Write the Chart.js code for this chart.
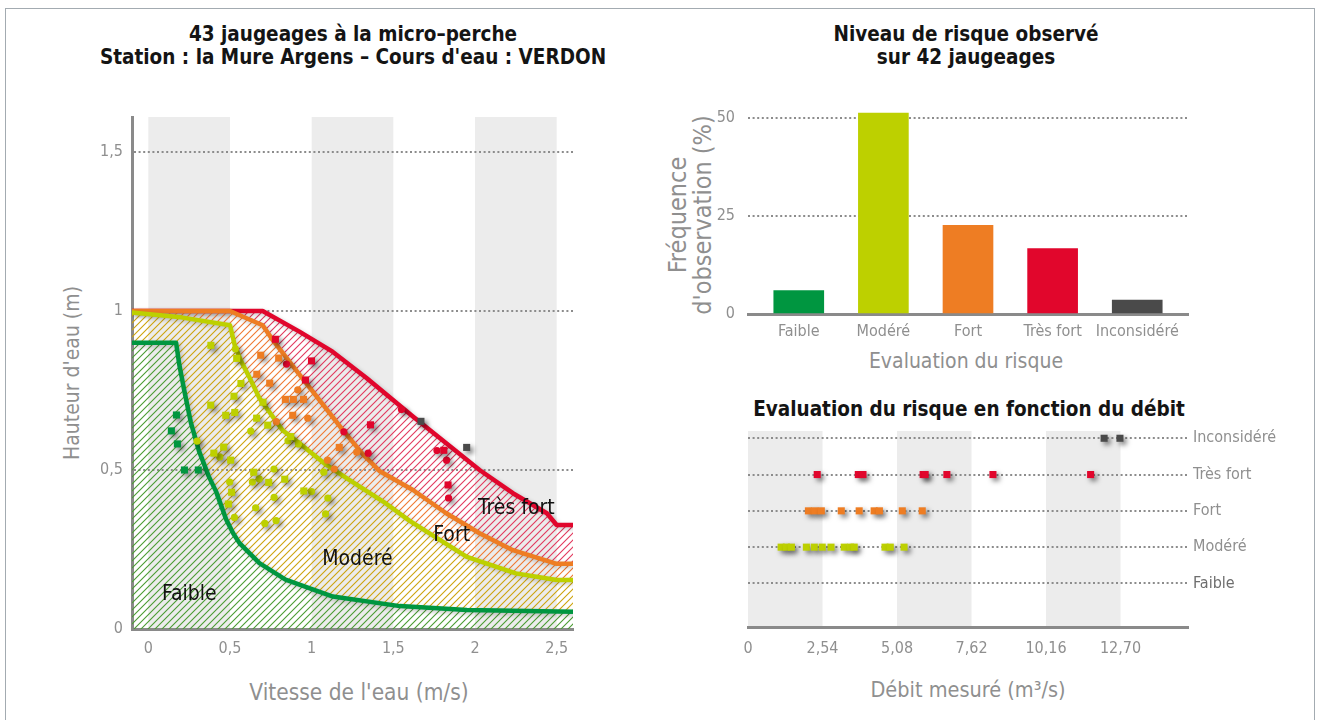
<!DOCTYPE html>
<html lang="fr">
<head>
<meta charset="utf-8">
<title>Jaugeages à la micro-perche – la Mure Argens</title>
<script src="https://cdn.jsdelivr.net/npm/chart.js@4.4.1/dist/chart.umd.min.js"></script>
<style>
  html, body { margin: 0; padding: 0; background: #fff; }
  #page { position: relative; width: 1320px; height: 720px; overflow: hidden;
          font-family: 'Liberation Sans Narrow', 'DejaVu Sans Condensed', 'Liberation Sans', sans-serif; }
  .frame { position: absolute; left: 5px; top: 8px; width: 1310px; height: 730px;
           border: 1px solid #a3abb1; box-sizing: border-box; }
  .title { position: absolute; text-align: center; font-weight: bold; color: #141414;
           font-size: 20.5px; line-height: 23px; white-space: nowrap; }
  .axt { position: absolute; text-align: center; color: #8f8f8f; font-size: 21px;
         line-height: 24px; white-space: nowrap; }
  .rot { transform: rotate(-90deg); transform-origin: 50% 50%; }
  .box { position: absolute; }
</style>
</head>
<body>
<div id="page">
  <div class="frame"></div>

  <div class="title" style="left:53px; top:23px; width:600px;">43 jaugeages à la micro–perche<br>Station : la Mure Argens – Cours d'eau : VERDON</div>
  <div class="title" style="left:666px; top:23px; width:600px;">Niveau de risque observé<br>sur 42 jaugeages</div>
  <div class="title" style="left:669px; top:398px; width:600px;">Evaluation du risque en fonction du débit</div>

  <div class="axt rot" style="left:-78px; top:361px; width:300px;">Hauteur d'eau (m)</div>
  <div class="axt" style="left:209px; top:680px; width:300px; font-size:22.5px;">Vitesse de l'eau (m/s)</div>
  <div class="axt rot" style="left:540px; top:190px; width:300px; height:50px; font-size:25px; line-height:25px;">Fréquence<br>d'observation (%)</div>
  <div class="axt" style="left:816px; top:349px; width:300px;">Evaluation du risque</div>
  <div class="axt" style="left:818px; top:678px; width:300px; font-size:21.5px;">Débit mesuré (m³/s)</div>

  <div class="box" style="left:0; top:0; width:660px; height:720px;"><canvas id="c1" width="660" height="720"></canvas></div>
  <div class="box" style="left:660px; top:0; width:660px; height:380px;"><canvas id="c2" width="660" height="380"></canvas></div>
  <div class="box" style="left:660px; top:380px; width:660px; height:340px;"><canvas id="c3" width="660" height="340"></canvas></div>
</div>

<script>
// ---------- Data ----------
// Risk limits (water speed m/s, water height m)
const limiteFaible   = [[-0.1,0.9],[0.17,0.9],[0.19,0.83],[0.22,0.75],[0.26,0.65],[0.31,0.56],[0.37,0.48],[0.415,0.432],[0.476,0.345],[0.52,0.3],[0.558,0.27],[0.68,0.207],[0.84,0.155],[1.13,0.102],[1.54,0.072],[1.95,0.06],[2.6,0.054]];
const limiteModere   = [[-0.1,0.995],[0.2,0.98],[0.5,0.955],[0.53,0.89],[0.57,0.84],[0.62,0.79],[0.68,0.726],[0.74,0.683],[0.82,0.626],[0.925,0.584],[1.09,0.516],[1.23,0.469],[1.44,0.4],[1.6,0.34],[1.95,0.227],[2.25,0.175],[2.5,0.154],[2.6,0.154]];
const limiteFort     = [[-0.1,1.0],[0.5,1.0],[0.7,0.955],[0.76,0.91],[0.91,0.81],[1.048,0.72],[1.19,0.626],[1.313,0.55],[1.415,0.497],[1.62,0.437],[1.824,0.364],[2.028,0.301],[2.232,0.248],[2.5,0.205],[2.6,0.205]];
const limiteTresFort = [[-0.1,1.0],[0.7,1.0],[0.925,0.935],[1.128,0.872],[1.334,0.79],[1.62,0.668],[1.824,0.584],[2.028,0.5],[2.232,0.427],[2.44,0.364],[2.5,0.327],[2.6,0.327]];

// Gaugings (speed, height) by risk class; squares and circles
const faibleCarres = [[0.172,0.673],[0.141,0.623],[0.178,0.582],[0.221,0.5],[0.306,0.5]];
const modereCarres = [[0.383,0.892],[0.541,0.851],[0.567,0.772],[0.524,0.732],[0.702,0.713],[0.382,0.704],[0.474,0.672],[0.529,0.681],[0.663,0.663],[0.731,0.641],[0.872,0.605],[0.461,0.572],[0.401,0.553],[0.504,0.531],[0.645,0.493],[0.835,0.471],[0.737,0.461],[0.510,0.430],[0.490,0.393],[0.952,0.434]];
const modereRonds  = [[0.533,0.881],[0.627,0.622],[0.855,0.592],[0.919,0.582],[0.298,0.591],[0.437,0.541],[0.769,0.503],[0.679,0.472],[0.637,0.462],[0.498,0.462],[1.074,0.493],[0.527,0.351],[0.770,0.414],[0.657,0.381],[0.713,0.332],[0.782,0.341],[0.999,0.432],[1.099,0.412],[1.085,0.362]];
const fortCarres   = [[0.688,0.861],[0.798,0.852],[0.664,0.801],[0.743,0.773],[0.839,0.722],[0.888,0.722],[0.950,0.722],[0.884,0.672],[1.169,0.571]];
const fortRonds    = [[0.915,0.752],[0.976,0.663],[0.783,0.652],[1.276,0.556],[1.097,0.531],[1.138,0.503]];
const tresFortCarres = [[0.778,0.911],[0.999,0.843],[0.962,0.783],[1.360,0.642],[1.809,0.562],[1.835,0.453]];
const tresFortRonds  = [[0.846,0.833],[1.197,0.620],[1.346,0.553],[1.550,0.690],[1.767,0.561],[1.826,0.531],[1.838,0.412]];
const inconsidereCarres = [[1.669,0.653],[1.949,0.571]];

const vitesseTicks = [0, 0.5, 1, 1.5, 2, 2.5];
const hauteurTicks = [0, 0.5, 1, 1.5];
const zoneNoms = ['Faible', 'Modéré', 'Fort', 'Très fort'];
const zoneVitesse = [0.251, 1.28, 1.857, 2.253];
const zoneHauteur = [0.107, 0.217, 0.293, 0.38];

// Observed risk frequency (%) over 42 gaugings
const classes = ['Faible', 'Modéré', 'Fort', 'Très fort', 'Inconsidéré'];
const frequences = [5.95, 51.19, 22.62, 16.67, 3.57];
const frequenceTicks = [0, 25, 50];

// Measured discharge (m3/s) per risk class
const debitFaible = [];
const debitModere = [1.13, 1.31, 1.48, 1.99, 2.26, 2.53, 2.83, 3.28, 3.50, 3.62, 4.67, 4.85, 5.32];
const debitFort = [2.06, 2.28, 2.50, 3.18, 3.79, 4.30, 4.48, 5.26, 5.94];
const debitTresFort = [2.36, 3.76, 3.92, 5.97, 6.04, 6.78, 8.35, 11.68];
const debitInconsidere = [12.14, 12.68];
const debitTicks = [0, 2.54, 5.08, 7.62, 10.16, 12.70];
const debitTickLabels = ['0', '2,54', '5,08', '7,62', '10,16', '12,70'];

// ---------- Styling ----------
const COL = { faible: '#009640', modere: '#bdd000', fort: '#ee7d23', tresFort: '#e1062c', inconsidere: '#4a4a4a' };
const GREY_TXT = '#8f8f8f';
const AXIS_COL = '#8a8a8a';
const GRID_COL = '#8c8c8c';
const BAND_COL = '#ececec';
const FONT = "'Liberation Sans Narrow', 'DejaVu Sans Condensed', 'Liberation Sans', sans-serif";
const DOTS = [2, 2.6];

Chart.defaults.font.family = FONT;
Chart.defaults.animation = false;
Chart.defaults.responsive = false;
Chart.defaults.plugins.legend.display = false;
Chart.defaults.plugins.tooltip.enabled = false;

function hatch(color) {
  const c = document.createElement('canvas');
  c.width = 7; c.height = 7;
  const g = c.getContext('2d');
  g.strokeStyle = color; g.lineWidth = 1.1;
  g.beginPath();
  g.moveTo(0, 7); g.lineTo(7, 0);
  g.moveTo(-1, 1); g.lineTo(1, -1);
  g.moveTo(6, 8); g.lineTo(8, 6);
  g.stroke();
  return g.createPattern(c, 'repeat');
}
const xy = arr => arr.map(([x, y]) => ({ x, y }));
const comma = v => String(v).replace('.', ',');
const fixTicks = list => scale => { scale.ticks = list.map(v => ({ value: v })); };

// Grey vertical bands behind the data
const bandsPlugin = {
  id: 'bands',
  beforeDraw(chart, args, opts) {
    if (!opts.ranges) return;
    const { ctx, chartArea: a } = chart;
    const xs = chart.scales.x;
    ctx.save();
    ctx.fillStyle = opts.color;
    opts.ranges.forEach(([v0, v1]) => {
      const p0 = xs.getPixelForValue(v0), p1 = xs.getPixelForValue(v1);
      ctx.fillRect(p0, a.top, p1 - p0, a.bottom - a.top);
    });
    ctx.restore();
  }
};

// Soft drop shadow on datasets that ask for it
const shadowPlugin = {
  id: 'dropShadow',
  beforeDatasetDraw(chart, args) {
    const s = chart.data.datasets[args.index].shadow;
    if (!s) return;
    const ctx = chart.ctx;
    ctx.save();
    ctx.shadowColor = s.color; ctx.shadowBlur = s.blur;
    ctx.shadowOffsetX = s.dx; ctx.shadowOffsetY = s.dy;
  },
  afterDatasetDraw(chart, args) {
    if (chart.data.datasets[args.index].shadow) chart.ctx.restore();
  }
};

// Risk zone names written inside the diagram
const zoneLabelsPlugin = {
  id: 'zoneLabels',
  afterDatasetsDraw(chart) {
    const { ctx, scales } = chart;
    ctx.save();
    ctx.font = "21px " + FONT;
    ctx.fillStyle = '#111';
    ctx.textAlign = 'center';
    ctx.textBaseline = 'middle';
    zoneNoms.forEach((n, i) => {
      ctx.fillText(n, scales.x.getPixelForValue(zoneVitesse[i]), scales.y.getPixelForValue(zoneHauteur[i]));
    });
    ctx.restore();
  }
};

const lineShadow = { color: 'rgba(0,0,0,0.22)', blur: 4, dx: 2, dy: 2 };
const markShadow = { color: 'rgba(0,0,0,0.5)', blur: 5, dx: 3, dy: 3 };

function limitLine(data, color, hatchColor, fill) {
  return { type: 'line', data: xy(data), borderColor: color, borderWidth: 4.5, pointRadius: 0,
           tension: 0, fill: fill, backgroundColor: hatch(hatchColor), order: 2, shadow: lineShadow,
           borderJoinStyle: 'round', borderCapStyle: 'butt' };
}
function marks(data, color, style, radius) {
  return { type: 'line', data: xy(data), showLine: false, pointStyle: style, pointRadius: radius,
           pointBackgroundColor: color, pointBorderWidth: 0, order: 1, shadow: markShadow };
}

// ---------- Chart 1 : height vs speed ----------
new Chart(document.getElementById('c1'), {
  type: 'line',
  data: {
    datasets: [
      limitLine(limiteFaible,   COL.faible,   '#4b9c33', 'origin'),
      limitLine(limiteModere,   COL.modere,   '#cda40e', 0),
      limitLine(limiteFort,     COL.fort,     '#f07a32', 1),
      limitLine(limiteTresFort, COL.tresFort, '#e23a5e', 2),
      marks(faibleCarres, COL.faible, 'rect', 5),
      marks(modereCarres, COL.modere, 'rect', 5),
      marks(modereRonds, COL.modere, 'circle', 3.6),
      marks(fortCarres, COL.fort, 'rect', 5),
      marks(fortRonds, COL.fort, 'circle', 3.6),
      marks(tresFortCarres, COL.tresFort, 'rect', 5),
      marks(tresFortRonds, COL.tresFort, 'circle', 3.6),
      marks(inconsidereCarres, COL.inconsidere, 'rect', 5)
    ]
  },
  options: {
    layout: { padding: { top: 117, right: 87, left: 0, bottom: 0 } },
    scales: {
      x: {
        type: 'linear', min: -0.1, max: 2.6,
        afterBuildTicks: fixTicks(vitesseTicks),
        afterFit: s => { s.height = 91; },
        grid: { display: false, drawTicks: false },
        border: { display: true, color: AXIS_COL, width: 3 },
        ticks: { color: GREY_TXT, font: { size: 16 }, padding: 10, maxRotation: 0, callback: comma }
      },
      y: {
        type: 'linear', min: 0, max: 1.61,
        afterBuildTicks: fixTicks(hauteurTicks),
        afterFit: s => { s.width = 132; },
        grid: { drawTicks: false, lineWidth: 2,
                color: c => (c.tick && c.tick.value === 0) ? 'rgba(0,0,0,0)' : GRID_COL },
        border: { display: true, color: AXIS_COL, width: 3, dash: DOTS },
        ticks: { color: GREY_TXT, font: { size: 16 }, padding: 9, callback: comma }
      }
    },
    plugins: { bands: { ranges: [[0, 0.5], [1, 1.5], [2, 2.5]], color: BAND_COL } }
  },
  plugins: [bandsPlugin, shadowPlugin, zoneLabelsPlugin]
});

// ---------- Chart 2 : observed risk frequency ----------
new Chart(document.getElementById('c2'), {
  type: 'bar',
  data: {
    datasets: [{
      data: classes.map((c, i) => ({ x: i, y: frequences[i] })),
      backgroundColor: [COL.faible, COL.modere, COL.fort, COL.tresFort, COL.inconsidere],
      barThickness: 50, borderWidth: 0
    }]
  },
  options: {
    layout: { padding: { top: 110, right: 132, left: 0, bottom: 0 } },
    scales: {
      x: {
        type: 'linear', min: -0.6, max: 4.6, offset: false,
        afterBuildTicks: fixTicks(classes.map((c, i) => i)),
        afterFit: s => { s.height = 66; },
        grid: { display: false, drawTicks: false },
        border: { display: true, color: AXIS_COL, width: 3 },
        ticks: { color: GREY_TXT, font: { size: 16 }, padding: 8, maxRotation: 0, autoSkip: false,
                 callback: v => classes[v] }
      },
      y: {
        type: 'linear', min: 0, max: 52,
        afterBuildTicks: fixTicks(frequenceTicks),
        afterFit: s => { s.width = 88; },
        grid: { drawTicks: false, lineWidth: 2,
                color: c => (c.tick && c.tick.value === 0) ? 'rgba(0,0,0,0)' : GRID_COL },
        border: { display: false, dash: DOTS },
        ticks: { color: GREY_TXT, font: { size: 16 }, padding: 13 }
      }
    }
  }
});

// ---------- Chart 3 : risk vs measured discharge ----------
const rowOf = (arr, row) => arr.map(v => [v, row]);
new Chart(document.getElementById('c3'), {
  type: 'line',
  data: {
    datasets: [
      marks(rowOf(debitFaible, 1), COL.faible, 'rect', 5),
      marks(rowOf(debitModere, 2), COL.modere, 'rect', 5),
      marks(rowOf(debitFort, 3), COL.fort, 'rect', 5),
      marks(rowOf(debitTresFort, 4), COL.tresFort, 'rect', 5),
      marks(rowOf(debitInconsidere, 5), COL.inconsidere, 'rect', 5)
    ]
  },
  options: {
    layout: { padding: { top: 51, right: 0, left: 88, bottom: 0 } },
    scales: {
      x: {
        type: 'linear', min: 0, max: 15,
        afterBuildTicks: fixTicks(debitTicks),
        afterFit: s => { s.height = 93; },
        grid: { display: false, drawTicks: false },
        border: { display: true, color: AXIS_COL, width: 3 },
        ticks: { color: GREY_TXT, font: { size: 16 }, padding: 12, maxRotation: 0, autoSkip: false,
                 callback: (v, i) => debitTickLabels[i] }
      },
      y: {
        type: 'linear', position: 'right', min: -0.2, max: 5.2,
        afterBuildTicks: fixTicks([1, 2, 3, 4, 5]),
        afterFit: s => { s.width = 132; },
        grid: { drawTicks: false, lineWidth: 2, color: GRID_COL },
        border: { display: false, dash: DOTS },
        ticks: { font: { size: 16 }, padding: 5, autoSkip: false,
                 color: c => c.tick && c.tick.value === 1 ? '#6e6e6e' : GREY_TXT,
                 callback: v => classes[v - 1] }
      }
    },
    plugins: { bands: { ranges: [[0, 2.54], [5.08, 7.62], [10.16, 12.70]], color: BAND_COL } }
  },
  plugins: [bandsPlugin, shadowPlugin]
});
</script>
</body>
</html>
